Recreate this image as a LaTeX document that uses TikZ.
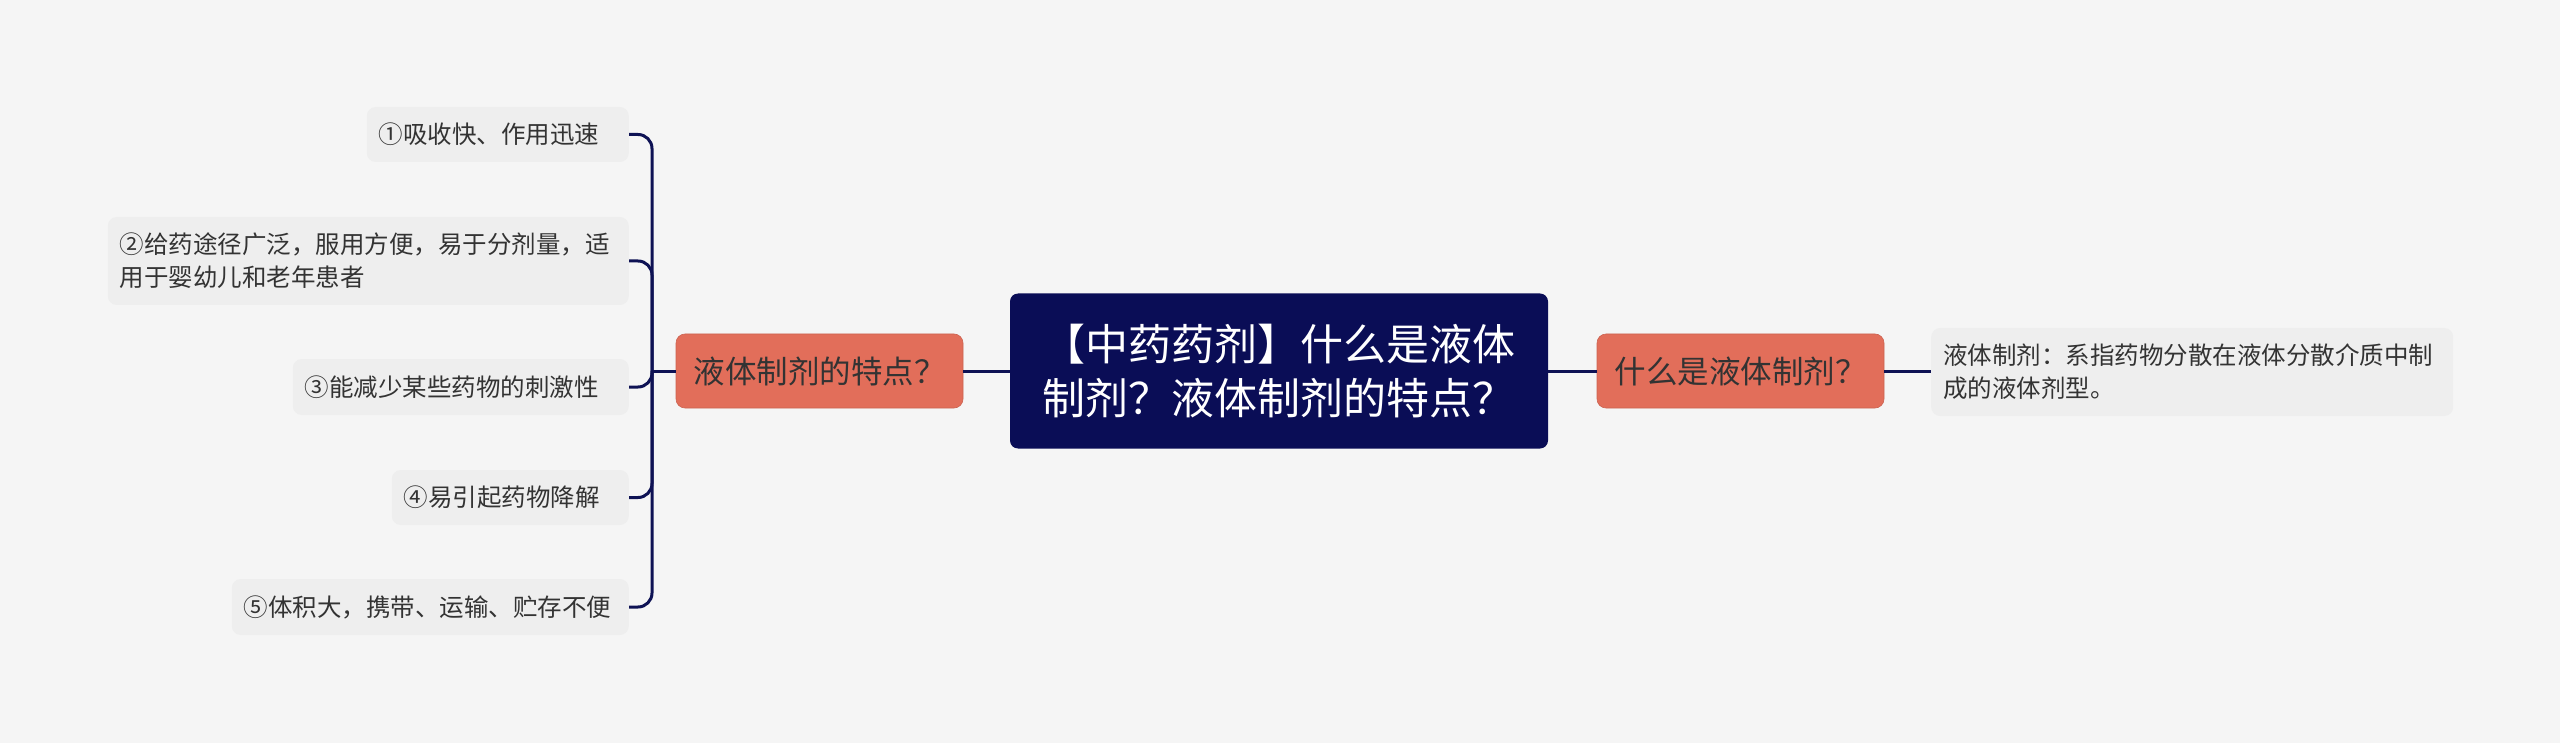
\documentclass[tikz,border=0pt]{standalone}
\usepackage{fontspec}
\setmainfont{Noto Sans CJK SC}
\usetikzlibrary{positioning}

\definecolor{bgcol}{RGB}{245,245,245}
\definecolor{navy}{RGB}{10,13,86}
\definecolor{linecol}{RGB}{14,18,84}
\definecolor{orange}{RGB}{226,110,90}
\definecolor{leafgrey}{RGB}{238,238,238}
\definecolor{txt}{RGB}{51,51,51}

\begin{document}
\begin{tikzpicture}[x=1pt,y=-1pt,
    root/.style={fill=navy, rounded corners=8pt, minimum width=538pt, minimum height=155pt,
        align=center, text=white, font=\fontsize{43}{54}\selectfont},
    head/.style={fill=orange, draw=orange!90!black, line width=0.6pt, rounded corners=9pt,
        minimum width=287pt, minimum height=74pt, text=txt, font=\fontsize{31.5}{36}\selectfont},
    leaf/.style={fill=leafgrey, rounded corners=9pt, inner xsep=12pt, inner ysep=0pt,
        align=left, text=txt, font=\fontsize{24.5}{33}\selectfont},
    link/.style={draw=linecol, line width=3pt}]
    \useasboundingbox[fill=bgcol] (0,0) rectangle (2560,743);

    \node[root] (root) at (1279,371) {【中药药剂】什么是液体\\制剂？液体制剂的特点？};
    \node[head] (lefthead) at (819.5,371) {液体制剂的特点？};
    \node[head] (righthead) at (1740.5,371) {什么是液体制剂？};
    \node[leaf, anchor=west, text width=498pt, minimum height=88pt] (def) at (1931,372)
        {液体制剂：系指药物分散在液体分散介质中制\\成的液体剂型。};

    % features on the left
    \node[leaf, anchor=east, text width=238pt, minimum height=55pt] (item1) at (629,134.5) {①吸收快、作用迅速};
    \node[leaf, anchor=east, text width=497pt, minimum height=88pt] (item2) at (629,261) {②给药途径广泛，服用方便，易于分剂量，适\\用于婴幼儿和老年患者};
    \node[leaf, anchor=east, text width=312pt, minimum height=56pt] (item3) at (629,387) {③能减少某些药物的刺激性};
    \node[leaf, anchor=east, text width=213pt, minimum height=55pt] (item4) at (629,497.5) {④易引起药物降解};
    \node[leaf, anchor=east, text width=373pt, minimum height=56pt] (item5) at (629,607) {⑤体积大，携带、运输、贮存不便};

    \coordinate (lj) at (652,371);

    \path[link] (root.west) -- (lefthead.east);
    \path[link] (root.east) -- (righthead.west);
    \path[link] (righthead.east) -- (righthead.east -| def.west);
    \path[link] (lefthead.west) -- (lj);
    \foreach \i in {1,...,5}
        \path[link, rounded corners=14pt] (lj) |- (item\i.east);
\end{tikzpicture}
\end{document}
